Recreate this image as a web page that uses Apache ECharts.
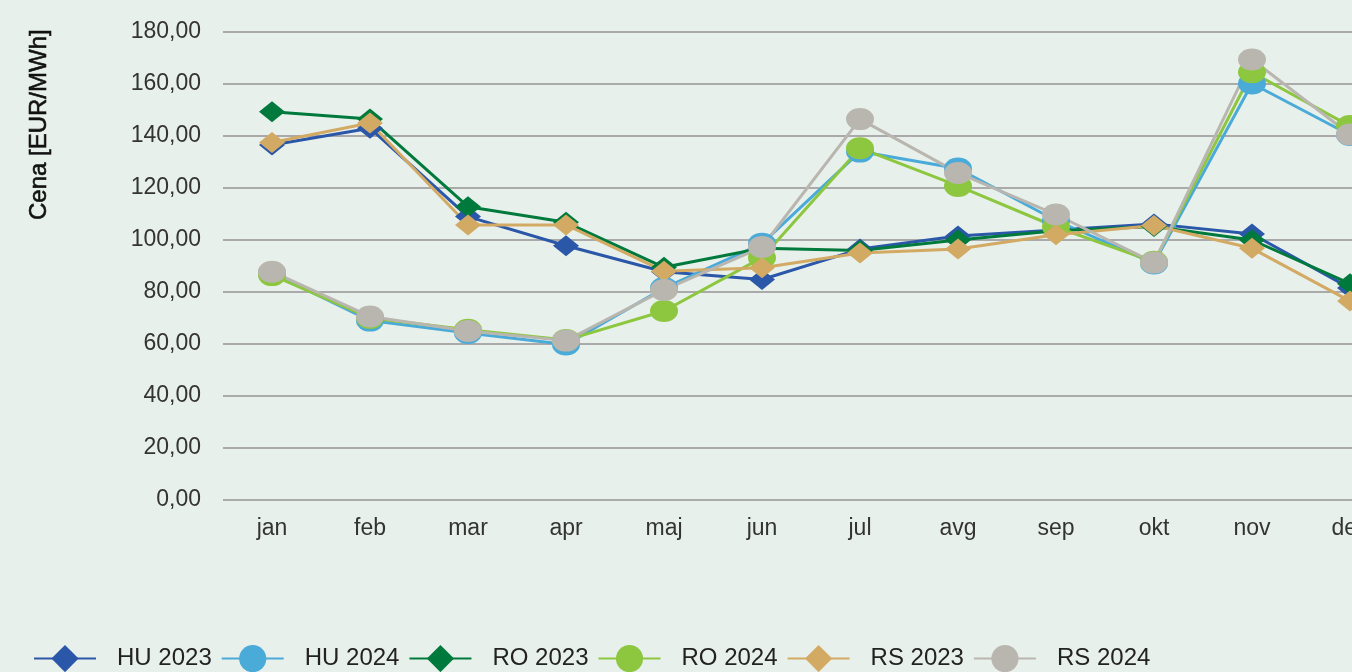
<!DOCTYPE html>
<html>
<head>
<meta charset="utf-8">
<script src="https://cdn.jsdelivr.net/npm/echarts@6/dist/echarts.min.js"></script>
<style>
  html, body { margin: 0; padding: 0; background: #e8f0eb; overflow: hidden; }
  #graph_cena { width: 1420px; height: 672px; }
</style>
</head>
<body>
<div id="graph_cena"></div>
<script>
var months = ['jan', 'feb', 'mar', 'apr', 'maj', 'jun', 'jul', 'avg', 'sep', 'okt', 'nov', 'dec'];

var hu2023 = [136.5, 143.0, 109.0, 97.8, 87.8, 84.8, 96.5, 101.5, 103.8, 106.2, 102.3, 81.5];
var hu2024 = [87.3, 69.0, 64.2, 59.8, 81.5, 98.6, 134.0, 127.5, 107.5, 91.0, 160.2, 140.4];
var ro2023 = [149.3, 146.5, 112.8, 106.8, 89.5, 96.8, 96.0, 100.0, 103.6, 105.2, 100.0, 83.2];
var ro2024 = [86.5, 70.0, 65.5, 61.5, 72.7, 93.2, 135.3, 120.8, 105.0, 91.6, 164.5, 143.8];
var rs2023 = [137.5, 145.0, 105.8, 105.8, 88.0, 89.3, 95.0, 96.5, 102.0, 105.6, 96.8, 76.5];
var rs2024 = [87.8, 70.6, 65.0, 61.3, 80.8, 97.3, 146.5, 125.8, 109.8, 91.3, 169.4, 140.6];

var chart = document.getElementById('graph_cena');
var myChart = echarts.init(chart);

var font = '"Liberation Sans", Arial, sans-serif';

function lineSeries(name, data, color, symbol) {
  return {
    name: name,
    type: 'line',
    data: data,
    symbol: symbol,
    symbolSize: symbol == 'diamond' ? [26, 21] : [28, 22],
    showSymbol: true,
    lineStyle: { color: color, width: 3 },
    itemStyle: { color: color },
    emphasis: { disabled: true },
    animation: false
  };
}

option = {
  backgroundColor: '#e8f0eb',
  textStyle: { fontFamily: font },
  legend: {
    left: 33,
    top: 645,
    padding: 0,
    itemWidth: 62,
    itemHeight: 34,
    itemGap: 9,
    textStyle: { fontSize: 24, color: '#222', fontFamily: font, padding: [0, 0, 0, 16] },
    data: ['HU 2023', 'HU 2024', 'RO 2023', 'RO 2024', 'RS 2023', 'RS 2024']
  },
  graphic: [{
    type: 'text',
    left: 27,
    top: 29,
    rotation: Math.PI / 2,
    style: {
      text: 'Cena [EUR/MWh]',
      fontSize: 24,
      fontFamily: font,
      fill: '#111',
      stroke: '#111',
      lineWidth: 0.6
    }
  }],
  grid: {
    left: 223,
    top: 32,
    width: 1176,
    height: 468,
    containLabel: false
  },
  xAxis: {
    type: 'category',
    data: months,
    boundaryGap: true,
    axisLine: { show: false },
    axisTick: { show: false },
    axisLabel: { fontSize: 23, color: '#333', margin: 17, fontFamily: font }
  },
  yAxis: {
    type: 'value',
    min: 0,
    max: 180,
    interval: 20,
    axisLine: { show: false },
    axisTick: { show: false },
    splitLine: { lineStyle: { color: '#a9aaa9', width: 2 } },
    axisLabel: {
      fontSize: 23,
      color: '#333',
      margin: 22,
      fontFamily: font,
      formatter: function (v) { return v.toFixed(2).replace('.', ','); }
    }
  },
  series: [
    lineSeries('HU 2023', hu2023, '#2b57a9', 'diamond'),
    lineSeries('HU 2024', hu2024, '#4aabd9', 'circle'),
    lineSeries('RO 2023', ro2023, '#007a3c', 'diamond'),
    lineSeries('RO 2024', ro2024, '#8dc63f', 'circle'),
    lineSeries('RS 2023', rs2023, '#d3aa64', 'diamond'),
    lineSeries('RS 2024', rs2024, '#b9b6b0', 'circle')
  ]
};

myChart.setOption(option);
</script>
</body>
</html>
